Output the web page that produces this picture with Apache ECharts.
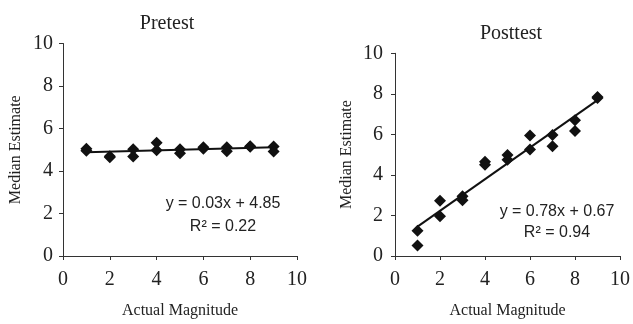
<!DOCTYPE html>
<html><head><meta charset="utf-8">
<script src="https://cdn.jsdelivr.net/npm/echarts@6/dist/echarts.min.js"></script>
<style>html,body{margin:0;padding:0;background:#fff}#c{width:633px;height:324px}</style>
</head><body><div id="c"></div>
<script>
const xTicks = [0, 2, 4, 6, 8, 10];
const yTicks = [0, 2, 4, 6, 8, 10];
const preX = [1,1,2,2,3,3,4,4,5,5,6,6,7,7,8,8,9,9];
const preY = [5.05,4.95,4.7,4.65,5.02,4.68,5.33,4.98,5.02,4.83,5.12,5.05,5.12,4.93,5.17,5.14,5.15,4.92];
const postX = [1,1,2,2,3,3,4,4,5,5,6,6,7,7,8,8,9,9];
const postY = [1.25,0.52,2.72,1.96,2.95,2.75,4.65,4.5,4.98,4.75,5.95,5.25,5.97,5.42,6.7,6.17,7.85,7.8];
const preFit = {slope: 0.03, intercept: 4.85, r2: 0.22};
const postFit = {slope: 0.78, intercept: 0.67, r2: 0.94};
const fitRange = [1, 9];

const serif = '"Liberation Serif", "Times New Roman", serif';
const sans = '"Liberation Sans", Arial, sans-serif';
const zip = (a, b) => a.map((v, i) => [v, b[i]]);
const fitLine = f => fitRange.map(x => [x, f.slope * x + f.intercept]);
const eqText = f => 'y = ' + f.slope.toFixed(2) + 'x + ' + f.intercept.toFixed(2);
const r2Text = f => 'R² = ' + f.r2.toFixed(2);

function xAxis(gi) {
  return {
    gridIndex: gi, type: 'value', min: xTicks[0], max: xTicks[xTicks.length-1], interval: 2,
    name: 'Actual Magnitude', nameLocation: 'middle', nameGap: 47,
    nameTextStyle: {fontFamily: serif, fontSize: 16, color: '#222'},
    axisLine: {lineStyle: {color: '#333', width: 1}},
    axisTick: {show: true, length: 4, lineStyle: {color: '#333'}},
    axisLabel: {fontFamily: serif, fontSize: 20, color: '#222', margin: 14},
    splitLine: {show: false}
  };
}
function yAxis(gi, gap, lm) {
  return {
    gridIndex: gi, type: 'value', min: yTicks[0], max: yTicks[yTicks.length-1], interval: 2,
    name: 'Median Estimate', nameLocation: 'middle', nameGap: gap,
    nameTextStyle: {fontFamily: serif, fontSize: 16, color: '#222'},
    axisLine: {show: true, lineStyle: {color: '#333', width: 1}},
    axisTick: {show: true, length: 4, lineStyle: {color: '#333'}},
    axisLabel: {fontFamily: serif, fontSize: 20, color: '#222', margin: lm},
    splitLine: {show: false}
  };
}
function label(x, y, text) {
  return {type: 'text', x: x, y: y, style: {text: text, fontFamily: sans, fontSize: 16, fill: '#222', align: 'center', verticalAlign: 'middle'}};
}
const chart = echarts.init(document.getElementById('c'));
chart.setOption({
  animation: false,
  backgroundColor: '#fff',
  title: [
    {text: 'Pretest', left: 162, top: 9, textAlign: 'center', textStyle: {fontFamily: serif, fontSize: 20, fontWeight: 'normal', color: '#222'}},
    {text: 'Posttest', left: 506, top: 19, textAlign: 'center', textStyle: {fontFamily: serif, fontSize: 20, fontWeight: 'normal', color: '#222'}}
  ],
  grid: [
    {left: 63, right: 336, top: 43.5, bottom: 63.5},
    {left: 395, right: 8, top: 53.3, bottom: 60.7}
  ],
  xAxis: [xAxis(0), xAxis(1)],
  yAxis: [yAxis(0, 39, 10), yAxis(1, 40, 12)],
  graphic: [
    label(223, 204, eqText(preFit)),
    label(223, 227, r2Text(preFit)),
    label(557, 212, eqText(postFit)),
    label(557, 233, r2Text(postFit))
  ],
  series: [
    {type: 'line', xAxisIndex: 0, yAxisIndex: 0, data: fitLine(preFit), symbol: 'none', lineStyle: {color: '#111', width: 2}, z: 3},
    {type: 'scatter', xAxisIndex: 0, yAxisIndex: 0, data: zip(preX, preY), symbol: 'diamond', symbolSize: 12, itemStyle: {color: '#111', opacity: 1}, z: 4},
    {type: 'line', xAxisIndex: 1, yAxisIndex: 1, data: fitLine(postFit), symbol: 'none', lineStyle: {color: '#111', width: 2}, z: 3},
    {type: 'scatter', xAxisIndex: 1, yAxisIndex: 1, data: zip(postX, postY), symbol: 'diamond', symbolSize: 12, itemStyle: {color: '#111', opacity: 1}, z: 4}
  ]
});
</script></body></html>
